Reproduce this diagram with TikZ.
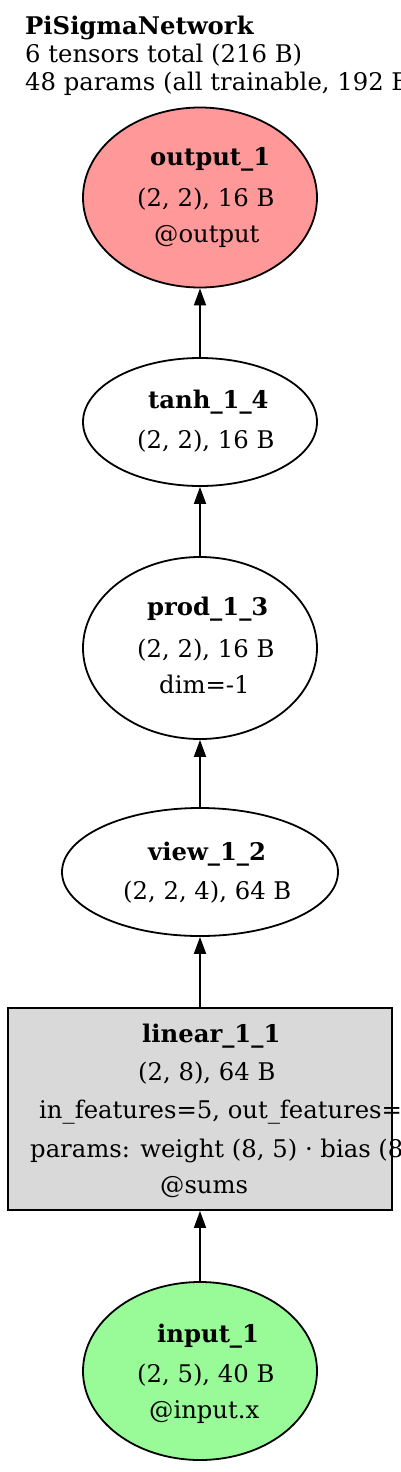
\documentclass[tikz,border=0pt]{standalone}
\usepackage{fontspec}
\setmainfont{DejaVu Serif}
\usetikzlibrary{arrows.meta,shapes.geometric}
\definecolor{outred}{HTML}{FF9999}
\definecolor{ingreen}{HTML}{98FB98}
\definecolor{lingray}{HTML}{D9D9D9}
\tikzset{
  tensor/.style={ellipse,draw,line width=1.8pt,inner sep=0pt,minimum width=234pt},
  layer/.style={rectangle,draw,line width=1.8pt,fill=lingray,inner sep=0pt,minimum width=384pt,minimum height=202pt},
  txt/.style={anchor=base west,inner sep=0pt,font=\fontsize{24.3}{28}\selectfont},
  ttl/.style={anchor=base west,inner sep=0pt,font=\fontsize{24.3}{28}\selectfont\bfseries},
  every edge/.style={draw,line width=1.8pt,-{Triangle[length=17pt,width=12pt]}},
}

\begin{document}
\begin{tikzpicture}[x=1pt,y=-1pt]
\useasboundingbox (0,0) rectangle (400,1472);

% header
\node[ttl] (title) at (25,35) {PiSigmaNetwork};
\node[txt] (ntens) at (25,63) {6 tensors total (216 B)};
\node[txt] (npar) at (25,90) {48 params (all trainable, 192 B)};

% shapes
\node[tensor,fill=outred,minimum height=180pt] (out) at (200,197.5) {};
\node[tensor,minimum height=128pt] (tanh) at (200,422) {};
\node[tensor,minimum height=182pt] (prod) at (200,648) {};
\node[tensor,minimum width=276pt,minimum height=128pt] (view) at (200,872) {};
\node[layer] (lin) at (200,1109) {};
\node[tensor,fill=ingreen,minimum height=178pt] (inp) at (200,1371) {};

\path
(tanh) edge (out)
(prod) edge (tanh)
(view) edge (prod)
(lin) edge (view)
(inp) edge (lin);

% labels
\node[ttl] (outN) at (150,165) {output\_1};
\node[txt] (outS) at (137,206) {(2, 2), 16 B};
\node[txt] (outA) at (154,242) {@output};

\node[ttl] (tanhN) at (148,408) {tanh\_1\_4};
\node[txt] (tanhS) at (137,448) {(2, 2), 16 B};

\node[ttl] (prodN) at (147,615) {prod\_1\_3};
\node[txt] (prodS) at (137,657) {(2, 2), 16 B};
\node[txt] (prodD) at (159,693) {dim=-1};

\node[ttl] (viewN) at (148,860) {view\_1\_2};
\node[txt] (viewS) at (123,899) {(2, 2, 4), 64 B};

\node[ttl] (linN) at (142,1042) {linear\_1\_1};
\node[txt] (linS) at (138,1080) {(2, 8), 64 B};
\node[txt] (linF) at (39,1118) {in\_features=5, out\_features=8};
\node[txt] (linP) at (30,1157) {params: weight (8, 5) · bias (8,)};
\node[txt] (linA) at (160,1193) {@sums};

\node[ttl] (inpN) at (157,1342) {input\_1};
\node[txt] (inpS) at (137,1382) {(2, 5), 40 B};
\node[txt] (inpA) at (149,1418) {@input.x};
\end{tikzpicture}
\end{document}
